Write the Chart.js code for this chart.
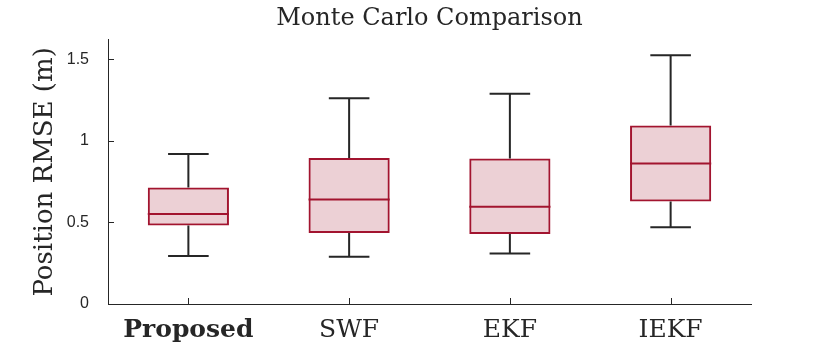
<!DOCTYPE html>
<html><head><meta charset="utf-8">
<script src="https://cdn.jsdelivr.net/npm/chart.js@4.4.1/dist/chart.umd.min.js"></script>
<style>html,body{margin:0;padding:0;background:#fff}#wrap{width:830px;height:348px}</style>
</head><body><div id="wrap"><canvas id="c"></canvas></div>
<script>
const categories = ['Proposed', 'SWF', 'EKF', 'IEKF'];
const whiskerLow  = [0.295, 0.289, 0.310, 0.470];
const q1          = [0.482, 0.435, 0.429, 0.628];
const median      = [0.552, 0.640, 0.597, 0.862];
const q3          = [0.714, 0.895, 0.892, 1.095];
const whiskerHigh = [0.919, 1.262, 1.289, 1.526];
const yTicks = [0, 0.5, 1, 1.5];

const EDGE = '#A2142F';
const FILL = 'rgba(162,20,47,0.2)';
const DARK = '#262626';
const SERIF = "'DejaVu Serif', 'Liberation Serif', serif";
const SANS = "'Liberation Sans', Arial, sans-serif";

const boxPlugin = {
  id: 'boxExtras',
  afterDatasetsDraw(chart) {
    const ctx = chart.ctx;
    const ys = chart.scales.y, xs = chart.scales.x;
    const meta = chart.getDatasetMeta(0);
    ctx.save();
    meta.data.forEach((el, i) => {
      const x = el.x, w = el.width;
      const pLow = ys.getPixelForValue(whiskerLow[i]);
      const pHigh = ys.getPixelForValue(whiskerHigh[i]);
      const pQ1 = ys.getPixelForValue(q1[i]);
      const pQ3 = ys.getPixelForValue(q3[i]);
      const pMed = ys.getPixelForValue(median[i]);
      ctx.strokeStyle = DARK; ctx.lineWidth = 2;
      ctx.beginPath();
      ctx.moveTo(x, pQ1); ctx.lineTo(x, pLow);
      ctx.moveTo(x, pQ3); ctx.lineTo(x, pHigh);
      ctx.moveTo(x - w / 4, pLow); ctx.lineTo(x + w / 4, pLow);
      ctx.moveTo(x - w / 4, pHigh); ctx.lineTo(x + w / 4, pHigh);
      ctx.stroke();
      ctx.strokeStyle = EDGE; ctx.lineWidth = 2;
      ctx.beginPath();
      ctx.moveTo(x - w / 2, pMed); ctx.lineTo(x + w / 2, pMed);
      ctx.stroke();
    });
    // inward tick marks
    ctx.strokeStyle = DARK; ctx.lineWidth = 1;
    ctx.beginPath();
    yTicks.forEach(v => {
      const p = Math.round(ys.getPixelForValue(v)) + 0.5;
      ctx.moveTo(xs.left, p); ctx.lineTo(xs.left + 6, p);
    });
    categories.forEach((c, i) => {
      const p = Math.round(xs.getPixelForValue(i)) + 0.5;
      ctx.moveTo(p, ys.bottom); ctx.lineTo(p, ys.bottom - 6);
    });
    ctx.stroke();
    ctx.restore();
  }
};

new Chart(document.getElementById('c'), {
  type: 'bar',
  data: {
    labels: categories,
    datasets: [{
      data: categories.map((c, i) => [q1[i], q3[i]]),
      backgroundColor: FILL,
      borderColor: EDGE,
      borderWidth: 2,
      borderSkipped: false,
      barPercentage: 0.505,
      categoryPercentage: 1
    }]
  },
  plugins: [boxPlugin],
  options: {
    responsive: true,
    maintainAspectRatio: false,
    animation: false,
    layout: { padding: { left: 0, right: 79, top: 0, bottom: 0 } },
    plugins: {
      legend: { display: false },
      tooltip: { enabled: false },
      title: {
        display: true,
        text: 'Monte Carlo Comparison',
        fullSize: false,
        color: DARK,
        font: { family: SERIF, size: 24, weight: 'normal', lineHeight: 1.2 },
        padding: { top: 4, bottom: 7 }
      }
    },
    scales: {
      x: {
        type: 'category',
        offset: true,
        grid: { display: false },
        border: { display: true, color: DARK, width: 1 },
        ticks: {
          color: DARK,
          padding: 3,
          maxRotation: 0,
          font: (c) => ({ family: SERIF, size: 25, weight: c.index === 0 ? 'bold' : 'normal' })
        },
        afterFit: (s) => { s.height = 44; }
      },
      y: {
        min: 0, max: 1.62,
        grid: { display: false },
        border: { display: true, color: DARK, width: 1 },
        ticks: {
          stepSize: 0.5,
          includeBounds: false,
          color: DARK,
          padding: 11,
          font: { family: SANS, size: 16 },
          callback: (v) => String(v)
        },
        title: {
          display: true,
          text: 'Position RMSE (m)',
          color: DARK,
          font: { family: SERIF, size: 26 },
          padding: { top: 30, bottom: 0 }
        },
        afterFit: (s) => { s.width = 108; }
      }
    }
  }
});
</script></body></html>
